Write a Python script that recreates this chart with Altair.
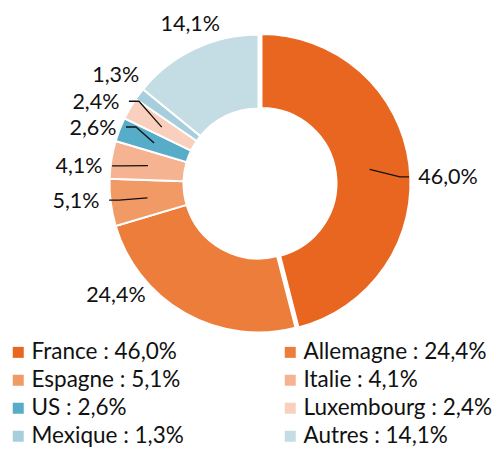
import math
import altair as alt
import pandas as pd

# ---- data ----
countries = ["France", "Allemagne", "Espagne", "Italie", "US", "Luxembourg", "Mexique", "Autres"]
shares = [46.0, 24.4, 5.1, 4.1, 2.6, 2.4, 1.3, 14.1]
colors = ["#E8661F", "#ED7D3B", "#F19A66", "#F5B391", "#57ACC7", "#F9D0BD", "#A7CEDC", "#C4DCE4"]

# ---- layout (label placement tweaks, as in the original best-fit labels) ----
label_nudge_deg = [5.2, 22.5, 2.2, -3.6, -2.4, -3.4, 0.5, 2.3]
label_radius = [189.6, 180.9, 183.2, 180.3, 174.9, 182.2, 179.7, 174.0]
has_leader = [True, False, True, True, True, True, False, False]

W, H = 501, 452
CX, CY = 258.5, 183.5
R_OUT, R_IN = 149, 75
EXPLODE = 3
FONT = "Lato"


def fmt(v):
    return f"{v:.1f}".replace(".", ",") + "%"


rows = []
cum = 0.0
total = sum(shares)
for c, v, nd, lr in zip(countries, shares, label_nudge_deg, label_radius):
    start = cum / total * 100
    cum += v
    end = cum / total * 100
    mid_deg = (start + end) / 2 * 3.6
    la = math.radians(mid_deg + nd)
    rows.append(dict(country=c, value=v, start=start, end=end, mid=mid_deg,
                     label=fmt(v), legend=f"{c} : {fmt(v)}",
                     lx=lr * math.sin(la), ly=lr * math.cos(la)))
df = pd.DataFrame(rows)
legend_labels = list(df["legend"])

# leader lines
lead = []
for r, hl in zip(rows, has_leader):
    if not hl:
        continue
    m = math.radians(r["mid"])
    p0 = (112 * math.sin(m), 112 * math.cos(m))
    hw = 6 * len(r["label"])
    if r["lx"] > 0:
        ex = r["lx"] - hw - 9
        elx = ex - 9
    else:
        ex = r["lx"] + hw + 9
        elx = ex + 10
    for i, (px, py) in enumerate([p0, (elx, r["ly"]), (ex, r["ly"])]):
        lead.append(dict(country=r["country"], k=i, x=px, y=py))
lead_df = pd.DataFrame(lead)

xs = alt.Scale(domain=[-CX, W - CX], nice=False, zero=False)
ys = alt.Scale(domain=[-(H - CY), CY], nice=False, zero=False)
theta_scale = alt.Scale(domain=[0, 100], range=[0, 2 * math.pi])
color_scale = alt.Scale(domain=legend_labels, range=colors)

legend = alt.Legend(
    orient="none", legendX=7, legendY=341, columns=2, direction="horizontal",
    title=None,
    symbolType="square", symbolSize=121, symbolStrokeWidth=0,
    labelFont=FONT, labelFontSize=22.5, labelColor="#111111", labelLimit=0,
    labelOffset=2, rowPadding=5, columnPadding=95, padding=0,
)


def arc_layer(data_filter, x, y):
    return alt.Chart(df).transform_filter(data_filter).mark_arc(
        radius=R_OUT, radius2=R_IN, stroke="white", strokeWidth=2
    ).encode(
        x=alt.value(x), y=alt.value(y),
        theta=alt.Theta("start:Q", scale=theta_scale),
        theta2="end:Q",
        color=alt.Color("legend:N", scale=color_scale, legend=legend),
    )


fr_mid = math.radians(df.loc[0, "mid"])
others = arc_layer(alt.datum.country != "France", CX, CY)
france = arc_layer(alt.datum.country == "France",
                   CX + EXPLODE * math.sin(fr_mid), CY - EXPLODE * math.cos(fr_mid))

leaders = alt.Chart(lead_df).mark_line(color="#111111", strokeWidth=1.3).encode(
    x=alt.X("x:Q", scale=xs, axis=None),
    y=alt.Y("y:Q", scale=ys, axis=None),
    detail="country:N",
    order="k:Q",
)

labels = alt.Chart(df).mark_text(font=FONT, fontSize=21.5, color="#111111",
                                 align="center", baseline="middle", dy=1.5).encode(
    x=alt.X("lx:Q", scale=xs, axis=None),
    y=alt.Y("ly:Q", scale=ys, axis=None),
    text="label:N",
)

chart = alt.layer(others, france, leaders, labels).properties(
    width=W, height=H, autosize=alt.AutoSizeParams(type="none"), padding=0
).configure_view(stroke=None)

chart.save("out.html", embed_options={"renderer": "svg", "actions": False})
